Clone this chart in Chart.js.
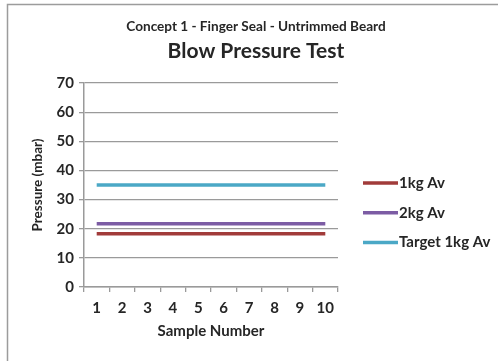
<!DOCTYPE html>
<html>
<head>
<meta charset="utf-8">
<script src="https://cdn.jsdelivr.net/npm/chart.js@4.4.1/dist/chart.umd.min.js"></script>
<style>
  html, body { margin: 0; padding: 0; background: #ffffff; }
  canvas { display: block; }
</style>
</head>
<body>
<canvas id="chart" width="498" height="361"></canvas>
<script>
// Sample numbers along the x axis
const sampleNumbers = ['1', '2', '3', '4', '5', '6', '7', '8', '9', '10'];
// Averaged blow pressure per sample (mbar)
const avg1kg    = [18.3, 18.3, 18.3, 18.3, 18.3, 18.3, 18.3, 18.3, 18.3, 18.3];
const avg2kg    = [21.7, 21.7, 21.7, 21.7, 21.7, 21.7, 21.7, 21.7, 21.7, 21.7];
const target1kg = [35, 35, 35, 35, 35, 35, 35, 35, 35, 35];
// Pressure axis ticks
const pressureTicks = [0, 10, 20, 30, 40, 50, 60, 70];
const seriesNames  = ['1kg Av', '2kg Av', 'Target 1kg Av'];
const seriesColors = ['#A13B3A', '#7C5CA4', '#4BA8C6'];

const FONT = 'Lato, "Liberation Sans", sans-serif';
const TEXT = '#262626';
const GRID = '#9a9a9a';

// Outer chart frame
const framePlugin = {
  id: 'frame',
  beforeDraw(chart) {
    const ctx = chart.ctx;
    ctx.save();
    ctx.fillStyle = '#ffffff';
    ctx.fillRect(0, 0, chart.width, chart.height);
    ctx.strokeStyle = '#9c9c9c';
    ctx.lineWidth = 1.5;
    ctx.strokeRect(7.5, 4.5, chart.width, chart.height);
    ctx.restore();
  }
};

// Legend drawn in its own layout box on the right of the plot
const sideLegendPlugin = {
  id: 'sideLegend',
  beforeInit(chart) {
    const box = {
      position: 'right',
      weight: 1000,
      fullSize: false,
      options: {},
      isHorizontal() { return false; },
      update(maxWidth, maxHeight) {
        this.width = 160;
        this.height = maxHeight;
      },
      draw() {
        const ctx = chart.ctx;
        ctx.save();
        ctx.font = 'bold 15px ' + FONT;
        ctx.textBaseline = 'middle';
        ctx.textAlign = 'left';
        chart.data.datasets.forEach((ds, i) => {
          const y = this.top + 100 + i * 29.7;
          const x0 = this.left + 25;
          ctx.strokeStyle = ds.borderColor;
          ctx.lineWidth = 3.5;
          ctx.beginPath();
          ctx.moveTo(x0, y);
          ctx.lineTo(x0 + 35, y);
          ctx.stroke();
          ctx.fillStyle = TEXT;
          ctx.fillText(ds.label, x0 + 36, y);
        });
        ctx.restore();
      }
    };
    Chart.layouts.addBox(chart, box);
  }
};

const makeSeries = (label, data, color) => ({
  label,
  data,
  borderColor: color,
  backgroundColor: color,
  borderWidth: 3.5,
  pointRadius: 0,
  pointHoverRadius: 0,
  tension: 0,
  fill: false
});

new Chart(document.getElementById('chart'), {
  type: 'line',
  data: {
    labels: sampleNumbers,
    datasets: [
      makeSeries(seriesNames[0], avg1kg, seriesColors[0]),
      makeSeries(seriesNames[1], avg2kg, seriesColors[1]),
      makeSeries(seriesNames[2], target1kg, seriesColors[2])
    ]
  },
  options: {
    responsive: false,
    animation: false,
    events: [],
    layout: { padding: { left: 14, right: 0, top: 0, bottom: 0 } },
    plugins: {
      legend: { display: false },
      tooltip: { enabled: false },
      title: {
        display: true,
        text: 'Concept 1 - Finger Seal - Untrimmed Beard',
        color: TEXT,
        font: { family: FONT, size: 13.6, weight: 'bold', lineHeight: 1.2 },
        padding: { top: 18.8, bottom: 0 }
      },
      subtitle: {
        display: true,
        text: 'Blow Pressure Test',
        color: TEXT,
        font: { family: FONT, size: 21, weight: 'bold', lineHeight: 1.2 },
        padding: { top: 3.3, bottom: 19.4 }
      }
    },
    scales: {
      x: {
        type: 'category',
        offset: true,
        grid: {
          offset: true,
          drawOnChartArea: false,
          drawTicks: true,
          tickLength: 5,
          color: GRID,
          lineWidth: 1.3
        },
        border: { display: true, color: GRID, width: 1.5 },
        ticks: {
          color: TEXT,
          padding: 7,
          maxRotation: 0,
          autoSkip: false,
          font: { family: FONT, size: 15, weight: 'bold' }
        },
        title: {
          display: true,
          text: 'Sample Number',
          color: TEXT,
          font: { family: FONT, size: 15, weight: 'bold', lineHeight: 1.2 },
          padding: { top: 0, bottom: 21 }
        },
        afterFit(scale) { scale.height = 74; }
      },
      y: {
        min: 0,
        max: 70,
        afterBuildTicks(scale) {
          scale.ticks = pressureTicks.map(v => ({ value: v }));
        },
        grid: {
          drawOnChartArea: true,
          drawTicks: true,
          tickLength: 5,
          color: GRID,
          lineWidth: 1.3
        },
        border: { display: true, color: GRID, width: 1.5 },
        ticks: {
          color: TEXT,
          padding: 5,
          font: { family: FONT, size: 15, weight: 'bold' }
        },
        title: {
          display: true,
          text: 'Pressure (mbar)',
          color: TEXT,
          font: { family: FONT, size: 13.5, weight: 'bold', lineHeight: 1.2 },
          padding: { top: 16, bottom: 0 }
        },
        afterFit(scale) { scale.width = 70; }
      }
    }
  },
  plugins: [framePlugin, sideLegendPlugin]
});
</script>
</body>
</html>
